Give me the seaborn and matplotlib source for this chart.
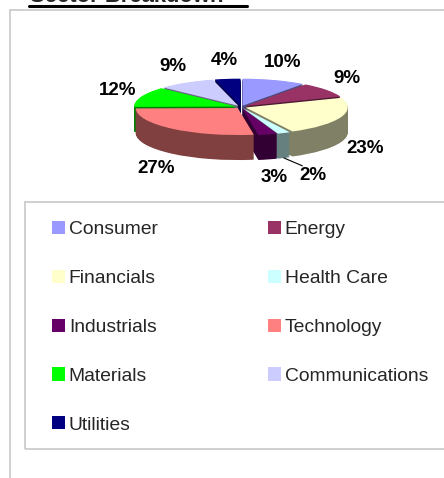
import numpy as np
import matplotlib
matplotlib.use("Agg")
import matplotlib.pyplot as plt
import seaborn as sns
from matplotlib.lines import Line2D
from matplotlib.patches import Rectangle, Patch
from matplotlib.colors import to_rgb

# data
sectors = ['Consumer', 'Energy', 'Financials', 'Health Care', 'Industrials',
           'Technology', 'Materials', 'Communications', 'Utilities']
weights = [10, 9, 23, 2, 3, 27, 12, 9, 4]
top_colors = ['#9999FF', '#993366', '#FFFFCC', '#CCFFFF', '#660066',
              '#FF8080', '#00FF00', '#CCCCFF', '#000080']

sns.set_style('white')
plt.rcParams['font.family'] = ['Liberation Sans', 'DejaVu Sans']

W, H = 444, 478
fig = plt.figure(figsize=(W / 100, H / 100), dpi=100)


def px_box(x0, y0, x1, y1):
    # pixel box (origin top-left) -> figure fraction rect
    return [x0 / W, 1 - y1 / H, (x1 - x0) / W, (y1 - y0) / H]


# outer chart border (runs off the right and bottom) and legend box
fig.add_artist(Rectangle((10 / W, -0.2), 1.2, 1.2 - 10 / H, transform=fig.transFigure,
                         fill=False, edgecolor='#C8C8C8', lw=1.2))
fig.add_artist(Rectangle((25 / W, 1 - 449 / H), 1.2, (449 - 202) / H,
                         transform=fig.transFigure, fill=False,
                         edgecolor='#C8C8C8', lw=1.2))

# title, mostly cut off at the top
fig.text(30 / W, 1 - 2.5 / H, 'Sector Breakdown', fontsize=15.8, fontweight='bold',
         va='baseline', ha='left')
fig.add_artist(Line2D([29 / W, 247 / W], [1 - 5.5 / H, 1 - 5.5 / H],
                      transform=fig.transFigure, color='black', lw=2.2))

# pie axes: 1 unit = 102 px wide, 27 px tall
cx, cy = 241, 107
rx, ry = 102, 27
xl, yl_top, yl_bot = 1.6, 2.2, 3.2
ax = fig.add_axes(px_box(cx - xl * rx, cy - yl_top * ry, cx + xl * rx, cy + yl_bot * ry))

depth = 25 / ry
explode = [0.05] * len(weights)
side_colors = [tuple(0.5 * np.array(to_rgb(c))) for c in top_colors]

for d in np.linspace(depth, 0.02, 40):
    ax.pie(weights, colors=side_colors, startangle=90, counterclock=False,
           explode=explode, center=(0, -d), wedgeprops=dict(linewidth=0))

wedges, _ = ax.pie(weights, colors=top_colors, startangle=90, counterclock=False,
                   explode=explode, center=(0, 0), wedgeprops=dict(linewidth=0))

ax.set_aspect('auto')
ax.set_xlim(-xl, xl)
ax.set_ylim(-yl_bot, yl_top)
ax.axis('off')

for w, v in zip(wedges, weights):
    th = np.deg2rad((w.theta1 + w.theta2) / 2)
    c, s = np.cos(th), np.sin(th)
    fx = 1.75 if v < 3 else 1.3
    x = fx * c
    y = 1.75 * s - (depth if s < 0 else 0)
    ax.text(x, y, f'{v}%', ha='center', va='center', fontsize=13.5,
            fontweight='bold', color='black')
    if v < 3:
        ax.plot([1.05 * c, x - 0.1], [1.05 * s - depth, y + 0.35],
                color='black', lw=0.8)

# legend, filled row by row like the reference
order = [0, 2, 4, 6, 8, 1, 3, 5, 7]
handles = [Patch(facecolor=top_colors[i], edgecolor='none') for i in order]
labels = [sectors[i] for i in order]
fig.legend(handles, labels, ncol=2, mode='expand', loc='upper left',
           bbox_to_anchor=px_box(52, 221, 428, 440), frameon=False,
           fontsize=13.9, borderpad=0, borderaxespad=0,
           handlelength=0.67, handleheight=0.67, handletextpad=0.2,
           labelspacing=1.63, columnspacing=1.0)

fig.savefig('out.png', dpi=100)
